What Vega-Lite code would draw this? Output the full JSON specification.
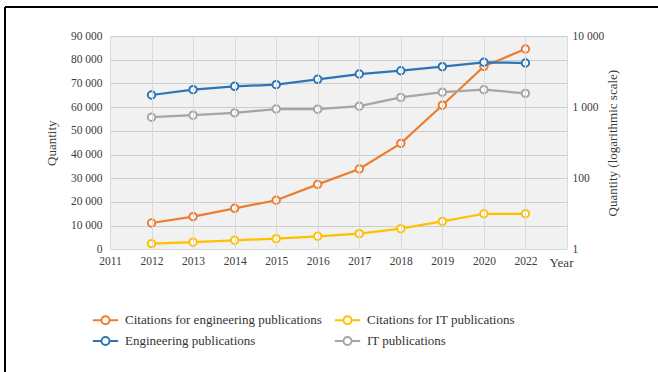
{
  "$schema": "https://vega.github.io/schema/vega-lite/v6.json",
  "width": 653,
  "height": 365,
  "autosize": {"type": "none"},
  "padding": {"left": 5, "top": 7, "right": 0, "bottom": 0},
  "background": "white",
  "config": {
    "locale": {"number": {"decimal": ".", "thousands": " ", "grouping": [3], "currency": ["", ""]}},
    "view": {"stroke": "black", "strokeWidth": 2, "strokeDash": [653, 1018, 365, 0]},
    "font": "Liberation Serif",
    "axis": {
      "labelFont": "Liberation Serif",
      "titleFont": "Liberation Serif",
      "labelColor": "#3b3b3b",
      "titleColor": "#3b3b3b",
      "titleFontWeight": "normal",
      "gridColor": "#d9d9d9",
      "gridWidth": 1,
      "domain": false,
      "ticks": false
    },
    "legend": {
      "labelFont": "Liberation Serif",
      "labelFontSize": 13,
      "labelColor": "#333333"
    }
  },
  "data": {
    "values": [
      {"year": "2012", "series": "Citations for engineering publications", "group": "Citations", "value": 11100},
      {"year": "2013", "series": "Citations for engineering publications", "group": "Citations", "value": 13800},
      {"year": "2014", "series": "Citations for engineering publications", "group": "Citations", "value": 17300},
      {"year": "2015", "series": "Citations for engineering publications", "group": "Citations", "value": 20700},
      {"year": "2016", "series": "Citations for engineering publications", "group": "Citations", "value": 27400},
      {"year": "2017", "series": "Citations for engineering publications", "group": "Citations", "value": 33900},
      {"year": "2018", "series": "Citations for engineering publications", "group": "Citations", "value": 44700},
      {"year": "2019", "series": "Citations for engineering publications", "group": "Citations", "value": 60800},
      {"year": "2020", "series": "Citations for engineering publications", "group": "Citations", "value": 77200},
      {"year": "2022", "series": "Citations for engineering publications", "group": "Citations", "value": 84500},
      {"year": "2012", "series": "Citations for IT publications", "group": "Citations", "value": 2400},
      {"year": "2013", "series": "Citations for IT publications", "group": "Citations", "value": 3000},
      {"year": "2014", "series": "Citations for IT publications", "group": "Citations", "value": 3800},
      {"year": "2015", "series": "Citations for IT publications", "group": "Citations", "value": 4500},
      {"year": "2016", "series": "Citations for IT publications", "group": "Citations", "value": 5500},
      {"year": "2017", "series": "Citations for IT publications", "group": "Citations", "value": 6600},
      {"year": "2018", "series": "Citations for IT publications", "group": "Citations", "value": 8700},
      {"year": "2019", "series": "Citations for IT publications", "group": "Citations", "value": 11800},
      {"year": "2020", "series": "Citations for IT publications", "group": "Citations", "value": 15000},
      {"year": "2022", "series": "Citations for IT publications", "group": "Citations", "value": 15000},
      {"year": "2012", "series": "Engineering publications", "group": "Publications", "value": 1480},
      {"year": "2013", "series": "Engineering publications", "group": "Publications", "value": 1760},
      {"year": "2014", "series": "Engineering publications", "group": "Publications", "value": 1960},
      {"year": "2015", "series": "Engineering publications", "group": "Publications", "value": 2070},
      {"year": "2016", "series": "Engineering publications", "group": "Publications", "value": 2460},
      {"year": "2017", "series": "Engineering publications", "group": "Publications", "value": 2920},
      {"year": "2018", "series": "Engineering publications", "group": "Publications", "value": 3250},
      {"year": "2019", "series": "Engineering publications", "group": "Publications", "value": 3700},
      {"year": "2020", "series": "Engineering publications", "group": "Publications", "value": 4270},
      {"year": "2022", "series": "Engineering publications", "group": "Publications", "value": 4170},
      {"year": "2012", "series": "IT publications", "group": "Publications", "value": 720},
      {"year": "2013", "series": "IT publications", "group": "Publications", "value": 770},
      {"year": "2014", "series": "IT publications", "group": "Publications", "value": 830},
      {"year": "2015", "series": "IT publications", "group": "Publications", "value": 940},
      {"year": "2016", "series": "IT publications", "group": "Publications", "value": 935},
      {"year": "2017", "series": "IT publications", "group": "Publications", "value": 1030},
      {"year": "2018", "series": "IT publications", "group": "Publications", "value": 1370},
      {"year": "2019", "series": "IT publications", "group": "Publications", "value": 1620},
      {"year": "2020", "series": "IT publications", "group": "Publications", "value": 1760},
      {"year": "2022", "series": "IT publications", "group": "Publications", "value": 1560}
    ]
  },
  "layer": [
    {
      "layer": [
        {
          "transform": [{"aggregate": [{"op": "count", "as": "n"}]}],
          "mark": {"type": "rect", "color": "#000000", "opacity": 0.055},
          "encoding": {
            "x": {"datum": "2011", "type": "ordinal",
                  "scale": {"type": "point", "domain": ["2011", "2012", "2013", "2014", "2015", "2016", "2017", "2018", "2019", "2020", "2022", " "], "range": [105, 562], "padding": 0},
                  "axis": {"orient": "top", "grid": true, "labels": false, "title": null}},
            "x2": {"datum": " "},
            "y": {"datum": 0, "type": "quantitative",
                  "scale": {"domain": [0, 90000], "range": [242.3, 29], "nice": false, "zero": false},
                  "axis": {"orient": "left", "offset": -105, "grid": true,
                           "values": [0, 10000, 20000, 30000, 40000, 50000, 60000, 70000, 80000, 90000],
                           "labelExpr": "format(datum.value, ',')", "labelFontSize": 11.5, "labelPadding": 8,
                           "title": "Quantity", "titleFontSize": 13, "titlePadding": 12}},
            "y2": {"datum": 90000}
          }
        },
        {
          "transform": [{"filter": "datum.group == 'Citations'"}],
          "mark": {"type": "line", "strokeWidth": 2.25,
                   "point": {"filled": false, "fill": "white", "size": 55, "strokeWidth": 2}},
          "encoding": {
            "x": {"field": "year", "type": "ordinal",
                  "scale": {"type": "point", "domain": ["2011", "2012", "2013", "2014", "2015", "2016", "2017", "2018", "2019", "2020", "2022", " "], "range": [105, 562], "padding": 0},
                  "axis": {"orient": "top", "grid": true, "labels": false, "title": null}},
            "y": {"field": "value", "type": "quantitative",
                  "scale": {"domain": [0, 90000], "range": [242.3, 29], "nice": false, "zero": false},
                  "axis": {"orient": "left", "offset": -105, "grid": true,
                           "values": [0, 10000, 20000, 30000, 40000, 50000, 60000, 70000, 80000, 90000],
                           "labelExpr": "format(datum.value, ',')", "labelFontSize": 11.5, "labelPadding": 8,
                           "title": "Quantity", "titleFontSize": 13, "titlePadding": 12}},
            "color": {"field": "series", "type": "nominal",
                      "scale": {"domain": ["Citations for engineering publications", "Citations for IT publications", "Engineering publications", "IT publications"],
                                "range": ["#ED7D31", "#FFC000", "#2E75B6", "#A5A5A5"]},
                      "legend": {"orient": "none", "legendX": 88, "legendY": 300.5, "columns": 2,
                                 "direction": "horizontal",
                                 "title": null, "padding": 0, "rowPadding": 0, "columnPadding": 8,
                                 "labelOffset": 7, "labelLimit": 0,
                                 "symbolType": "M-1.1,0H-0.35M0.35,0H1.1M0.35,0A0.35,0.35,0,1,1,-0.35,0A0.35,0.35,0,1,1,0.35,0Z",
                                 "symbolSize": 529, "symbolStrokeWidth": 2,
                                 "encode": {"symbols": {"update": {"fill": {"value": "white"}, "strokeWidth": {"value": 2}}}}}}
          }
        }
      ]
    },
    {
      "transform": [{"filter": "datum.group == 'Publications'"}],
      "mark": {"type": "line", "strokeWidth": 2.25,
               "point": {"filled": false, "fill": "white", "size": 55, "strokeWidth": 2}},
      "encoding": {
        "x": {"field": "year", "type": "ordinal",
              "scale": {"type": "point", "domain": ["2011", "2012", "2013", "2014", "2015", "2016", "2017", "2018", "2019", "2020", "2022", " "], "range": [105, 562], "padding": 0},
              "axis": {"orient": "bottom", "offset": -122.7, "grid": false, "labelAngle": 0,
                       "labelFontSize": 11.5, "labelPadding": 6,
                       "title": "Year", "titleFontSize": 13, "titleX": 556, "titleY": 12.7,
                       "titleBaseline": "middle", "titleAlign": "center"}},
        "y": {"field": "value", "type": "quantitative",
              "scale": {"type": "log", "domain": [10, 10000], "range": [242.3, 29], "nice": false},
              "axis": {"orient": "right", "offset": -91, "grid": false,
                       "values": [10, 100, 1000, 10000],
                       "labelExpr": "datum.value == 10 ? '1' : format(datum.value, ',')",
                       "labelFontSize": 11.5, "labelPadding": 5,
                       "title": "Quantity (logarithmic scale)", "titleFontSize": 13,
                       "titleAngle": -90, "titlePadding": 16}},
        "color": {"field": "series", "type": "nominal",
                  "scale": {"domain": ["Citations for engineering publications", "Citations for IT publications", "Engineering publications", "IT publications"],
                            "range": ["#ED7D31", "#FFC000", "#2E75B6", "#A5A5A5"]}}
      }
    }
  ],
  "resolve": {"scale": {"y": "independent"}, "axis": {"x": "independent", "y": "independent"}}
}
